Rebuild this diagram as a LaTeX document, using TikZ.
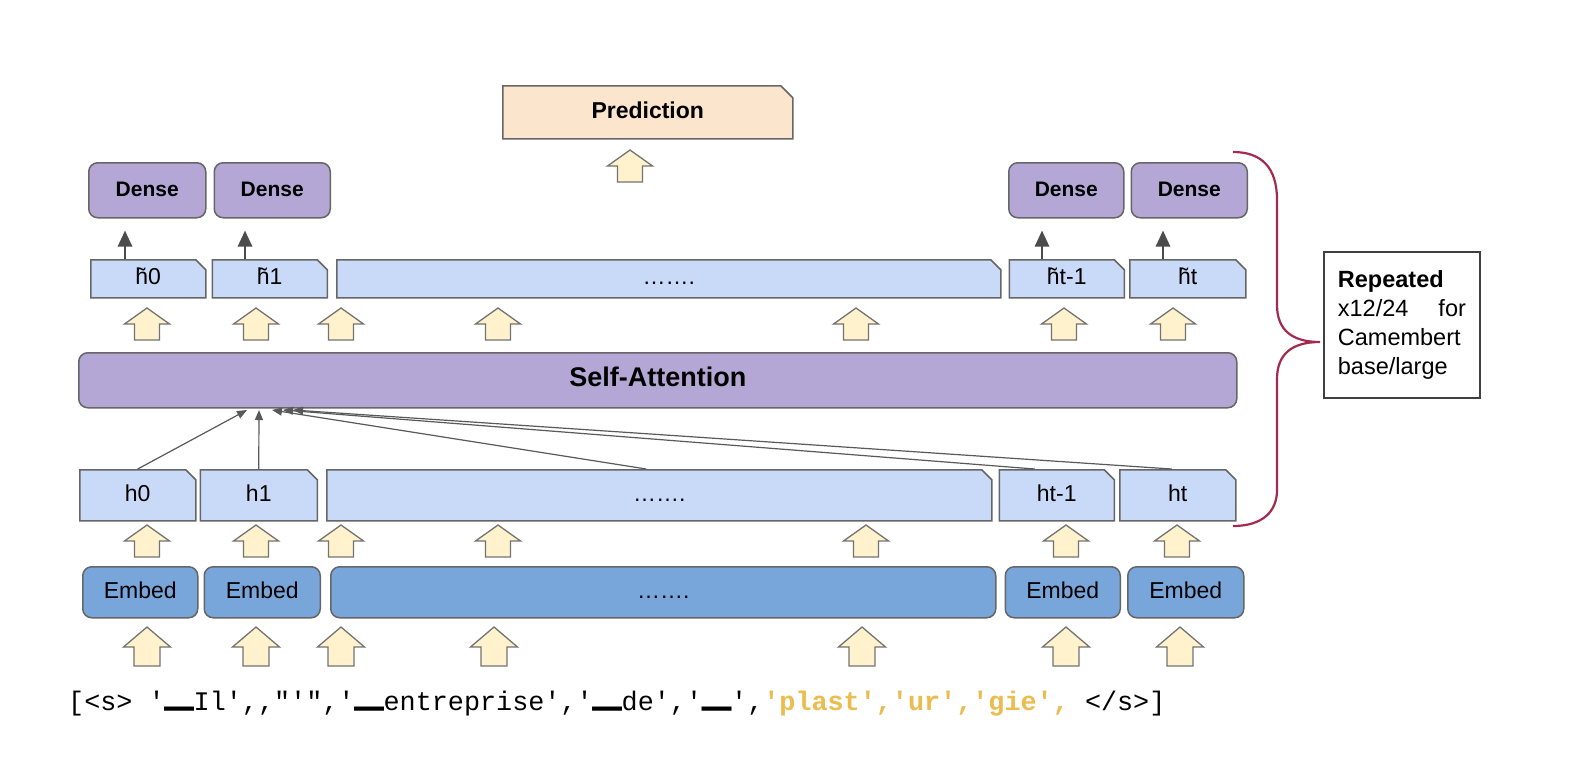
\documentclass[tikz,border=0pt]{standalone}
\usepackage{fontspec}
\setmainfont{Liberation Sans}
\setmonofont{Liberation Mono}
\newfontfamily\barfont{DejaVu Sans Mono}
\usepackage{tikz}
\usetikzlibrary{shapes,calc,positioning,arrows.meta}

\definecolor{densecol}{HTML}{B4A7D6}
\definecolor{hidcol}{HTML}{C9DAF8}
\definecolor{embcol}{HTML}{78A6DA}
\definecolor{predcol}{HTML}{FCE5CD}
\definecolor{arrcol}{HTML}{FFF2CC}
\definecolor{edgecol}{HTML}{666666}
\definecolor{tokcol}{HTML}{EBBC4E}
\definecolor{bracecol}{HTML}{A3294F}
\newcommand{\sbar}{\raisebox{6pt}{\scalebox{1.8}[1]{\barfont ▁}}}

\begin{document}
\begin{tikzpicture}[x=1pt,y=-1pt,
        box/.style={draw=edgecol, line width=1.5pt, inner sep=0pt, anchor=north west, text height=16pt, text depth=4pt},
        dense/.style={box, rounded corners=9pt, fill=densecol, minimum height=55pt, font=\bfseries\fontsize{21}{24}\selectfont},
        hid/.style={box, chamfered rectangle, chamfered rectangle corners=north east, chamfered rectangle sep=5pt, fill=hidcol, minimum height=51pt, font=\fontsize{23}{26}\selectfont},
        hidtop/.style={hid, minimum height=38pt},
        embed/.style={box, rounded corners=9pt, fill=embcol, minimum height=51pt, font=\fontsize{23}{26}\selectfont},
        pred/.style={box, chamfered rectangle, chamfered rectangle corners=north east, chamfered rectangle sep=6pt, fill=predcol, minimum height=53pt, font=\bfseries\fontsize{23}{26}\selectfont},
        blk/.style={draw=black!55, fill=arrcol, line width=1.3pt},
        uparr/.pic={\path[blk] (-12.5,0) -- (-12.5,-16) -- (-22.5,-16) -- (0,-32) -- (22.5,-16) -- (12.5,-16) -- (12.5,0) -- cycle;},
        bigarr/.pic={\path[blk] (-13,0) -- (-13,-19) -- (-23.5,-19) -- (0,-39) -- (23.5,-19) -- (13,-19) -- (13,0) -- cycle;},
        att/.style={draw=black!65, line width=1.2pt, -{Triangle[width=8pt,length=10pt]}},
        up/.style={draw=black!70, line width=2.6pt, -{Triangle[width=14pt,length=16pt]}, shorten >=12pt},
        ]
        \path[use as bounding box, fill=white] (0,0) rectangle (1594,766);

        \node[pred, minimum width=290pt] (pred) at (502,85) {Prediction};
        \node[dense, minimum width=117pt] (d0) at (88,162) {Dense};
        \node[dense, minimum width=116pt, right=7pt of d0] (d1) {Dense};
        \node[dense, minimum width=115pt] (d2) at (1008,162) {Dense};
        \node[dense, minimum width=116pt, right=6pt of d2] (d3) {Dense};

        \node[hidtop, minimum width=115pt] (g0) at (90,259) {h̃0};
        \node[hidtop, minimum width=115pt, right=5pt of g0] (g1) {h̃1};
        \node[hidtop, minimum width=664pt, right=8pt of g1] (gd) {…….};
        \node[hidtop, minimum width=115pt, right=7pt of gd] (gm) {h̃t-1};
        \node[hidtop, minimum width=116pt, right=4pt of gm] (gt) {h̃t};

        \node[dense, minimum width=1158pt, font=\bfseries\fontsize{27}{30}\selectfont] (sa) at (78,352) {Self-Attention};

        \node[hid, minimum width=116pt] (h0) at (79,469) {h0};
        \node[hid, minimum width=117pt, right=3pt of h0] (h1) {h1};
        \node[hid, minimum width=665pt, right=8pt of h1] (hd) {…….};
        \node[hid, minimum width=115pt, right=6pt of hd] (hm) {ht-1};
        \node[hid, minimum width=116pt, right=4pt of hm] (ht) {ht};

        \node[embed, minimum width=115pt] (e0) at (82,566) {Embed};
        \node[embed, minimum width=116pt, right=5pt of e0] (e1) {Embed};
        \node[embed, minimum width=665pt, right=9pt of e1] (ed) {…….};
        \node[embed, minimum width=115pt, right=8pt of ed] (em) {Embed};
        \node[embed, minimum width=116pt, right=6pt of em] (et) {Embed};

        \pic at (630,182) {uparr};
        \foreach \x in {147,256,341,498,856,1064,1173} \pic at (\x,340) {uparr};
        \foreach \x in {147,256,341,498,866,1066,1177} \pic at (\x,557) {uparr};
        \foreach \x in {147,256,341,494,862,1066,1180} \pic at (\x,666) {bigarr};

        \foreach \g/\d/\x in {g0/d0/125, g1/d1/245, gm/d2/1042, gt/d3/1163}
            \draw[up] (\x,0 |- \g.north) -- (\x,0 |- \d.south);

        \coordinate (a0) at (247,410);
        \coordinate (a1) at (259,410);
        \coordinate (a2) at (272,410);
        \coordinate (a3) at (283,410);
        \coordinate (a4) at (293,410);
        \draw[att] (h0.north) -- (a0);
        \draw[att] (h1.north) -- (a1);
        \draw[att] ([xshift=-13pt]hd.north) -- (a2);
        \draw[att] ([xshift=-22pt]hm.north) -- (a3);
        \draw[att] ([xshift=-6pt]ht.north) -- (a4);

        \draw[bracecol, line width=2.2pt] (1233,152) .. controls (1262,152) and (1277,168) .. (1277,200) -- (1277,305)
            .. controls (1277,330) and (1292,342) .. (1320,342) .. controls (1292,342) and (1277,354) .. (1277,379)
            -- (1277,490) .. controls (1277,512) and (1262,526) .. (1233,526);

        \node[draw=black!75, line width=1.8pt, anchor=north west, minimum height=146pt, text width=128pt, inner xsep=14pt,
            align=left, font=\fontsize{23.5}{29}\selectfont] (rep) at (1323,251)
            {\textbf{Repeated}\\x12/24\hfill for\\Camembert\\base/large};

        \node[anchor=base west, inner sep=0pt, font=\ttfamily\fontsize{26.8}{30}\selectfont] (tok) at (68,710)
            {[<s> '\sbar Il',,"'",'\sbar entreprise','\sbar de','\sbar',\textcolor{tokcol}{\bfseries 'plast','ur','gie',} </s>]};
\end{tikzpicture}
\end{document}
